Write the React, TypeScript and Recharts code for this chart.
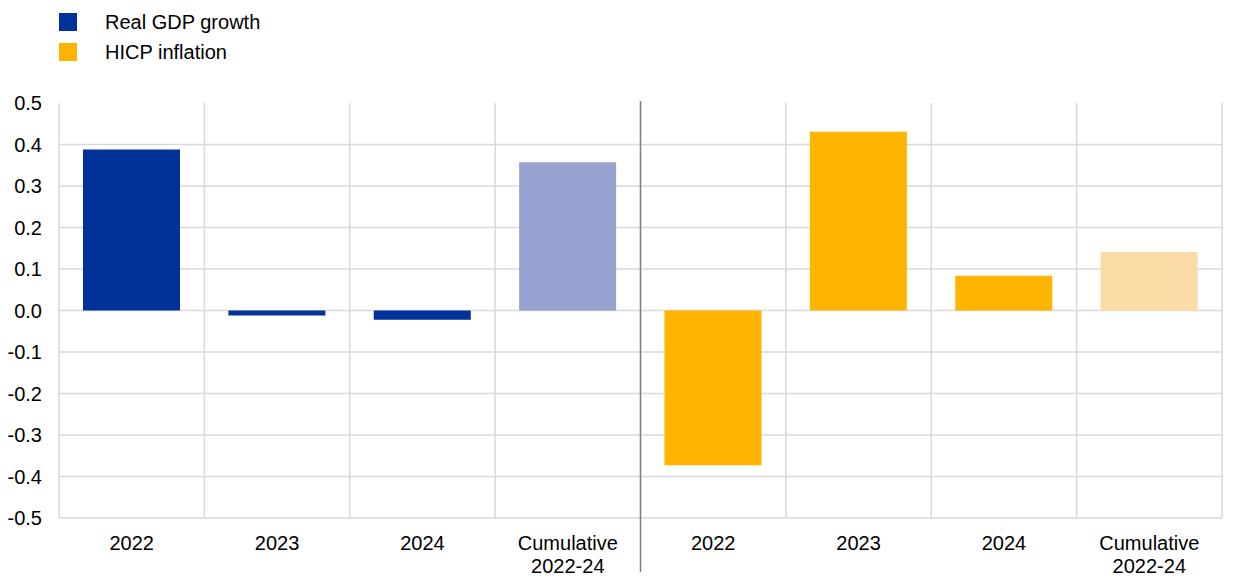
import { Bar, BarChart, CartesianGrid, Cell, ReferenceLine, XAxis, YAxis } from "recharts";

const years = ["2022", "2023", "2024", "Cumulative\n2022-24"];
const gdpValues = [0.388, -0.012, -0.022, 0.357];
const hicpValues = [-0.373, 0.431, 0.084, 0.141];
const yTicks = [-0.5, -0.4, -0.3, -0.2, -0.1, 0, 0.1, 0.2, 0.3, 0.4, 0.5];
const gridYTicks = [-0.5, -0.4, -0.3, -0.2, -0.1, 0, 0.1, 0.2, 0.3, 0.4];

const BLUE = "#003299";
const BLUE_LIGHT = "#99a3d1";
const YELLOW = "#ffb400";
const YELLOW_LIGHT = "#fcdca6";

const rows = [
  ...years.map((label, i) => ({
    key: `gdp-${i}`,
    label,
    value: gdpValues[i],
    color: i === 3 ? BLUE_LIGHT : BLUE,
  })),
  ...years.map((label, i) => ({
    key: `hicp-${i}`,
    label,
    value: hicpValues[i],
    color: i === 3 ? YELLOW_LIGHT : YELLOW,
  })),
];

const FONT = "'Liberation Sans', Arial, sans-serif";

function CategoryTick(props: any) {
  const { x, y, payload } = props;
  const row = rows.find((r) => r.key === payload.value);
  const lines = (row ? row.label : "").split("\n");
  return (
    <text x={x} y={y} textAnchor="middle" fontSize={20} fontFamily={FONT} fill="#000">
      {lines.map((line, i) => (
        <tspan key={i} x={x} dy={i === 0 ? 24 : 23}>
          {line}
        </tspan>
      ))}
    </text>
  );
}

// grid lines sit on category boundaries, not on the tick centres
function boundaryLines({ xAxis, offset }: any) {
  const s = xAxis && typeof xAxis.scale === "function" ? xAxis.scale : null;
  if (s && typeof s.bandwidth === "function") {
    const xs = rows.map((r) => s(r.key));
    xs.push(xs[xs.length - 1] + s.bandwidth());
    return xs;
  }
  const step = offset.width / rows.length;
  return [...rows.map((_, i) => offset.left + i * step), offset.left + offset.width];
}

function LegendBox() {
  const items = [
    { name: "Real GDP growth", color: BLUE },
    { name: "HICP inflation", color: YELLOW },
  ];
  return (
    <div style={{ position: "absolute", left: 0, top: 0, fontFamily: FONT, fontSize: 20 }}>
      {items.map((it, i) => (
        <div
          key={it.name}
          style={{ position: "absolute", left: 59, top: 12 + i * 30, display: "flex", alignItems: "center", whiteSpace: "nowrap" }}
        >
          <span style={{ width: 18, height: 18, background: it.color, display: "inline-block" }} />
          <span style={{ marginLeft: 28, color: "#000", lineHeight: "20px" }}>{it.name}</span>
        </div>
      ))}
    </div>
  );
}

export default function App() {
  return (
    <div style={{ position: "absolute", left: 0, top: 0, width: 1240, height: 584, background: "#fff" }}>
      <LegendBox />
      <BarChart
        width={1240}
        height={584}
        data={rows}
        margin={{ top: 103, right: 18, bottom: 0, left: 0 }}
        barSize={97}
      >
        <XAxis
          dataKey="key"
          type="category"
          axisLine={false}
          tickLine={false}
          height={66}
          interval={0}
          tick={<CategoryTick />}
        />
        <YAxis
          domain={[-0.5, 0.5]}
          ticks={yTicks}
          width={59}
          axisLine={false}
          tickLine={false}
          tickSize={0}
          tickMargin={17}
          tickFormatter={(v: number) => v.toFixed(1)}
          tick={{ fontSize: 20, fontFamily: FONT, fill: "#000" }}
          allowDataOverflow
        />
        <CartesianGrid
          stroke="#d9d9d9"
          strokeWidth={1.5}
          horizontalValues={gridYTicks}
          verticalCoordinatesGenerator={boundaryLines}
        />
        <Bar dataKey="value" isAnimationActive={false}>
          {rows.map((r) => (
            <Cell key={r.key} fill={r.color} />
          ))}
        </Bar>
        <ReferenceLine
          segment={[
            { x: "hicp-0", y: 0.505 },
            { x: "hicp-0", y: -0.63 },
          ]}
          position="start"
          stroke="#7f7f7f"
          strokeWidth={1.5}
          ifOverflow="visible"
        />
      </BarChart>
    </div>
  );
}
